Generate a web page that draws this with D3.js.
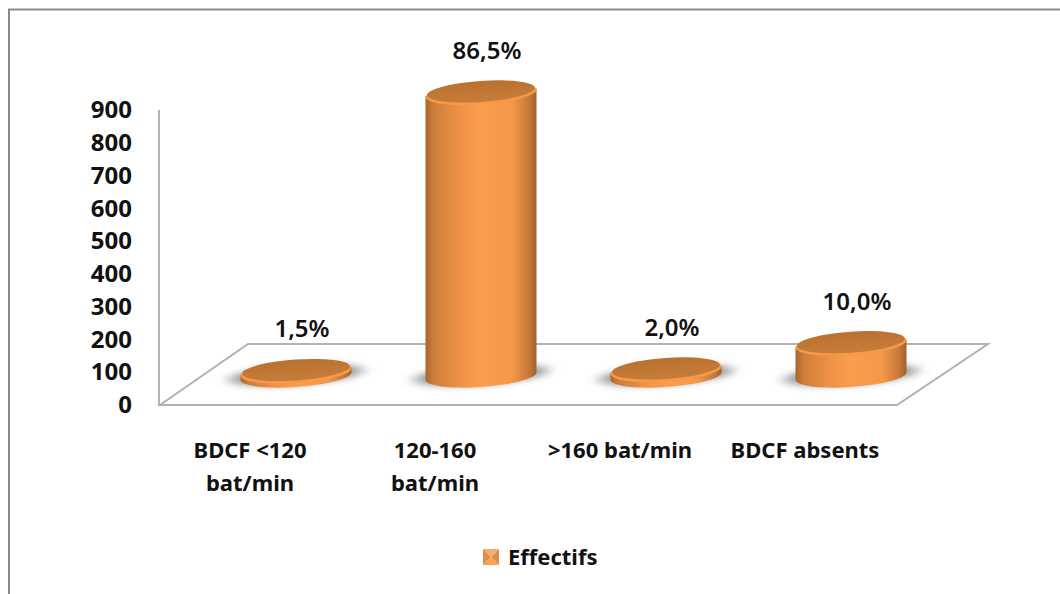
<!DOCTYPE html>
<html>
<head>
<meta charset="utf-8">
<script src="https://cdn.jsdelivr.net/npm/d3@7"></script>
<style>
    html, body { margin: 0; padding: 0; background: #fff; }
    svg { display: block; }
    text { font-family: "Noto Sans", sans-serif; fill: #111; }
</style>
</head>
<body>
<div id="my_dataviz"></div>
<script>
const categories = [["BDCF <120", "bat/min"], ["120-160", "bat/min"], [">160 bat/min"], ["BDCF absents"]];
const values = [15, 865, 20, 100];
const percentLabels = ["1,5%", "86,5%", "2,0%", "10,0%"];
const yTicks = [0, 100, 200, 300, 400, 500, 600, 700, 800, 900];
const seriesName = "Effectifs";

const width = 1060;
const height = 594;
const baseY = 376;   // centre of the cylinder bases on the floor
const rx = 55.5;
const ry = 11;
const tilt = -4;
const tiltShift = 3.6;  // how far the ellipse ends sit off the centre line

const svg = d3.select("#my_dataviz")
    .append("svg")
    .attr("width", width)
    .attr("height", height);

const xScale = d3.scalePoint()
    .domain(d3.range(categories.length))
    .range([296, 851]);

const yScale = d3.scaleLinear()
    .domain([0, 900])
    .range([405, 110]);

const topY = d => baseY - (yScale(0) - yScale(d));

const defs = svg.append("defs");

const bodyGrad = defs.append("linearGradient").attr("id", "body");
[[0, "#a8642c"], [0.07, "#cc7e3a"], [0.3, "#ee9145"], [0.5, "#fa9e4c"], [0.78, "#f5984a"], [0.93, "#c67a38"], [1, "#a0602c"]]
    .forEach(s => bodyGrad.append("stop").attr("offset", s[0]).attr("stop-color", s[1]));

const topGrad = defs.append("linearGradient").attr("id", "top")
    .attr("x1", 0).attr("y1", 0).attr("x2", 0).attr("y2", 1);
[[0, "#b97130"], [1, "#c87c39"]]
    .forEach(s => topGrad.append("stop").attr("offset", s[0]).attr("stop-color", s[1]));

defs.append("filter").attr("id", "blur")
    .attr("x", "-30%").attr("y", "-60%").attr("width", "160%").attr("height", "220%")
    .append("feGaussianBlur").attr("stdDeviation", "7 3");

// outer frame, only top and left are visible in the picture
svg.append("path")
    .attr("d", `M9,${height} V9.5 H${width}`)
    .attr("fill", "none")
    .attr("stroke", "#8a8a8a")
    .attr("stroke-width", 2);

// floor and wall
svg.append("path")
    .attr("d", "M160,405 H897 L988,344 H248 Z")
    .attr("fill", "#fff")
    .attr("stroke", "#b2b2b2")
    .attr("stroke-width", 2);

svg.append("line")
    .attr("x1", 159).attr("x2", 159)
    .attr("y1", yScale(900)).attr("y2", yScale(0))
    .attr("stroke", "#b2b2b2")
    .attr("stroke-width", 2);

// Add Y Axis
const yAxis = svg.append("g")
    .attr("transform", "translate(132,0)")
    .call(d3.axisLeft(yScale).tickValues(yTicks).tickSize(0).tickPadding(0));
yAxis.select(".domain").remove();
yAxis.selectAll("text")
    .style("font-family", '"Noto Sans", sans-serif')
    .style("font-size", "24px")
    .style("font-weight", "bold")
    .style("fill", "#111");

const bars = svg.selectAll(".bar")
    .data(values)
    .enter()
    .append("g")
    .attr("class", "bar");

// soft shadow on the floor
bars.append("ellipse")
    .attr("cx", (d, i) => xScale(i))
    .attr("cy", baseY - 1)
    .attr("rx", rx + 12)
    .attr("ry", 10)
    .attr("transform", (d, i) => `rotate(${tilt} ${xScale(i)} ${baseY})`)
    .attr("fill", "#8c8c8c")
    .attr("opacity", 0.85)
    .attr("filter", "url(#blur)");

// cylinder side
bars.append("path")
    .attr("fill", "url(#body)")
    .attr("d", (d, i) => {
        const cx = xScale(i);
        return `M${cx - rx},${topY(d) + tiltShift} V${baseY + tiltShift}` +
            ` A${rx},${ry} ${tilt} 0 0 ${cx + rx},${baseY - tiltShift}` +
            ` V${topY(d) - tiltShift} Z`;
    });

// lighter rim round the lid
bars.append("ellipse")
    .attr("cx", (d, i) => xScale(i))
    .attr("cy", d => topY(d) + 1)
    .attr("rx", rx)
    .attr("ry", ry)
    .attr("transform", (d, i) => `rotate(${tilt} ${xScale(i)} ${topY(d)})`)
    .attr("fill", "#f59a4a");

bars.append("ellipse")
    .attr("cx", (d, i) => xScale(i))
    .attr("cy", d => topY(d) - 1)
    .attr("rx", rx - 1.5)
    .attr("ry", ry - 0.5)
    .attr("transform", (d, i) => `rotate(${tilt} ${xScale(i)} ${topY(d)})`)
    .attr("fill", "url(#top)");

// percent labels
svg.selectAll(".pct")
    .data(percentLabels)
    .enter()
    .append("text")
    .attr("class", "pct")
    .attr("text-anchor", "middle")
    .attr("dy", ".35em")
    .attr("x", (d, i) => xScale(i) + 6)
    .attr("y", (d, i) => topY(values[i]) - 42)
    .style("font-size", "24px")
    .style("font-weight", "600")
    .text(d => d);

// category labels
const catLabels = svg.selectAll(".cat")
    .data(categories)
    .enter()
    .append("text")
    .attr("class", "cat")
    .attr("text-anchor", "middle")
    .style("font-size", "22px")
    .style("font-weight", "bold");

catLabels.selectAll("tspan")
    .data((d, i) => d.map(line => ({ line, i })))
    .enter()
    .append("tspan")
    .attr("x", d => xScale(d.i) - 46)
    .attr("y", (d, j) => 458 + j * 33)
    .text(d => d.line);

// legend
const legend = svg.append("g").attr("transform", "translate(483,549)");
[["0,0 16,0 8,8", "#eeb070"], ["0,16 16,16 8,8", "#fba24f"], ["0,0 0,16 8,8", "#de8e46"], ["16,0 16,16 8,8", "#de8e46"]]
    .forEach(p => legend.append("polygon").attr("points", p[0]).attr("fill", p[1]));

svg.append("text")
    .attr("x", 508)
    .attr("y", 557)
    .attr("dy", ".35em")
    .style("font-size", "22px")
    .style("font-weight", "bold")
    .text(seriesName);
</script>
</body>
</html>
